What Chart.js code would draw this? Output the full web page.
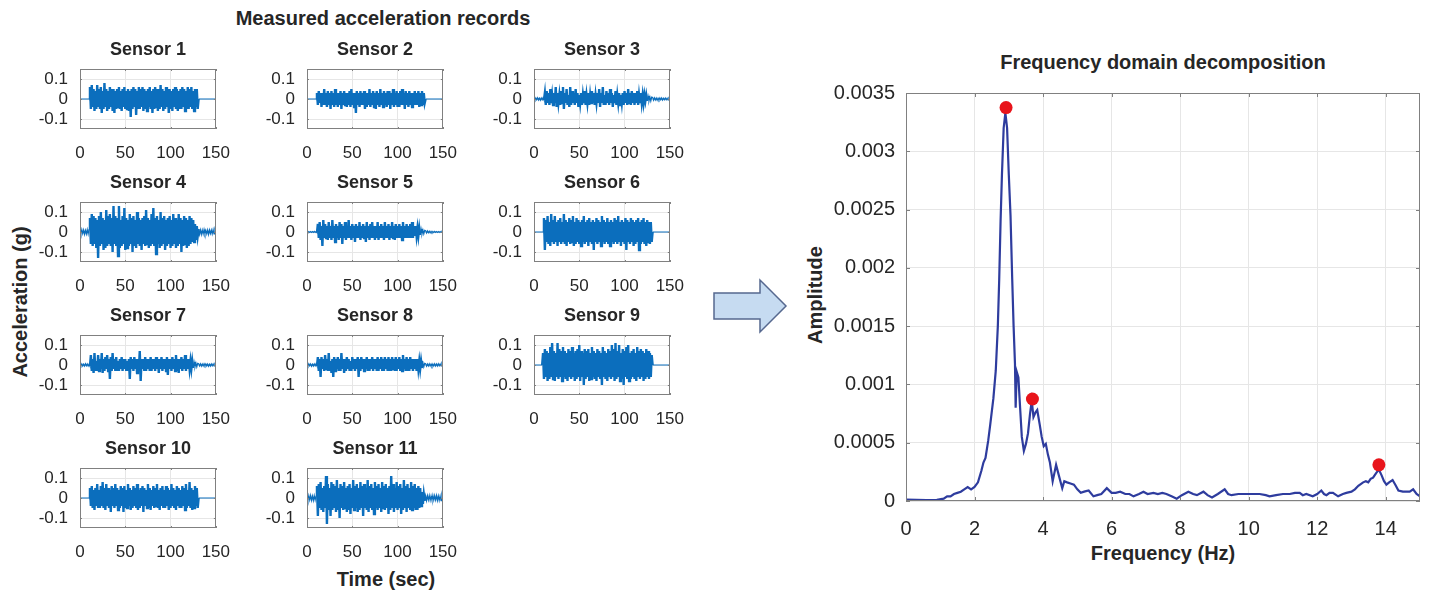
<!DOCTYPE html>
<html>
<head>
<meta charset="utf-8">
<script src="https://cdn.jsdelivr.net/npm/chart.js@4.4.1/dist/chart.umd.min.js"></script>
<style>
  body { margin: 0; background: #fff; }
  #fig { position: relative; width: 1430px; height: 592px; overflow: hidden; background: #fff;
         font-family: "Liberation Sans", Arial, Helvetica, sans-serif; color: #262626; }
  #fig canvas { position: absolute; }
  .lbl { position: absolute; font-weight: bold; font-size: 20px; white-space: nowrap;
         transform: translate(-50%, -50%); }
  .rot { transform: translate(-50%, -50%) rotate(-90deg); }
  #arrow { position: absolute; left: 0; top: 0; }
</style>
</head>
<body>
<div id="fig">
  <div class="lbl" style="left:383px; top:18px;">Measured acceleration records</div>
  <div class="lbl rot" style="left:20px; top:302px;">Acceleration (g)</div>
  <div class="lbl" style="left:386px; top:579px;">Time (sec)</div>
  <div class="lbl" style="left:1163px; top:62px;">Frequency domain decomposition</div>
  <div class="lbl rot" style="left:815px; top:295px;">Amplitude</div>
  <div class="lbl" style="left:1163px; top:553px;">Frequency (Hz)</div>
  <svg id="arrow" width="1430" height="592">
    <polygon points="714,293 760,293 760,280 786,306 760,332 760,319 714,319"
             fill="#c6dbf1" stroke="#56688f" stroke-width="1.5"/>
  </svg>
</div>
<script>
// ---- acceleration records (g), 1 s samples, first sample at S_START ----
const S_START = [11, 11, 0, 0, 0, 11, 0, 0, 10, 11, 0];

const s1 = [
  0.06,-0.05,0.07,-0.04,0.05,-0.06,0.04,-0.05,0.07,-0.04,
  0.05,-0.05,0.06,-0.07,0.04,-0.05,0.08,-0.04,0.05,-0.06,
  0.04,-0.05,0.06,-0.04,0.05,-0.06,0.05,-0.07,0.04,-0.05,
  0.05,-0.04,0.06,-0.05,0.04,-0.06,0.05,-0.04,0.06,-0.05,
  0.04,-0.05,0.05,-0.06,0.04,-0.09,0.05,-0.05,0.06,-0.04,
  0.05,-0.08,0.04,-0.05,0.06,-0.05,0.05,-0.04,0.06,-0.06,
  0.05,-0.05,0.04,-0.06,0.05,-0.04,0.06,-0.05,0.04,-0.07,
  0.05,-0.05,0.06,-0.04,0.05,-0.06,0.05,-0.05,0.07,-0.04,
  0.05,-0.06,0.04,-0.05,0.06,-0.04,0.05,-0.07,0.05,-0.05,
  0.04,-0.06,0.05,-0.04,0.06,-0.05,0.05,-0.06,0.04,-0.05,
  0.05,-0.05,0.06,-0.04,0.05,-0.06,0.04,-0.05,0.06,-0.05,
  0.05,-0.04,0.06,-0.05,0.04,-0.06,0.05,-0.04,0.05,-0.05
];
const s2 = [
  0.03,-0.03,0.04,-0.02,0.03,-0.04,0.03,-0.03,0.05,-0.03,
  0.03,-0.04,0.04,-0.03,0.03,-0.05,0.04,-0.03,0.03,-0.04,
  0.05,-0.03,0.03,-0.04,0.03,-0.03,0.04,-0.05,0.03,-0.03,
  0.04,-0.03,0.03,-0.04,0.03,-0.03,0.04,-0.04,0.05,-0.03,
  0.03,-0.04,0.03,-0.07,0.04,-0.03,0.03,-0.04,0.04,-0.03,
  0.03,-0.03,0.04,-0.05,0.03,-0.04,0.03,-0.03,0.05,-0.04,
  0.03,-0.03,0.04,-0.04,0.03,-0.05,0.04,-0.03,0.03,-0.04,
  0.05,-0.03,0.03,-0.04,0.04,-0.03,0.03,-0.04,0.04,-0.03,
  0.04,-0.05,0.03,-0.03,0.05,-0.04,0.03,-0.03,0.04,-0.04,
  0.03,-0.04,0.04,-0.03,0.05,-0.03,0.03,-0.05,0.04,-0.03,
  0.03,-0.04,0.04,-0.03,0.03,-0.04,0.03,-0.03,0.04,-0.03,
  0.03,-0.03,0.04,-0.04,0.03,-0.03,0.04,-0.03,0.03,-0.02
];
const s3 = [
  0.004,-0.005,0.005,-0.004,0.006,-0.005,0.004,-0.006,0.005,-0.004,0.006,-0.005,
  0.03,-0.03,0.04,-0.02,0.03,-0.03,0.05,-0.02,0.02,-0.03,
  0.03,-0.02,0.06,-0.04,0.03,-0.02,0.02,-0.03,0.04,-0.02,
  0.06,-0.05,0.03,-0.02,0.05,-0.03,0.02,-0.04,0.06,-0.03,
  0.04,-0.02,0.03,-0.03,0.05,-0.02,0.03,-0.04,0.02,-0.02,
  0.03,-0.03,0.02,-0.02,0.04,-0.03,0.02,-0.02,0.03,-0.03,
  0.02,-0.02,0.04,-0.02,0.03,-0.03,0.02,-0.02,0.03,-0.02,
  0.05,-0.04,0.03,-0.02,0.06,-0.03,0.02,-0.03,0.04,-0.02,
  0.03,-0.03,0.05,-0.02,0.03,-0.04,0.02,-0.02,0.04,-0.03,
  0.02,-0.02,0.03,-0.03,0.02,-0.02,0.03,-0.03,0.04,-0.02,
  0.03,-0.03,0.05,-0.02,0.03,-0.03,0.04,-0.02,0.03,-0.03,
  0.03,-0.02,0.04,-0.03,0.02,-0.02,0.03,-0.02,0.02,-0.02,
  0.02,-0.01,0.02,-0.01,0.015,-0.01,0.01,-0.01,0.01,
  0.008,-0.006,0.006,-0.005,0.005,-0.006,0.004,-0.005,0.005,-0.004,
  0.005,-0.005,0.004,-0.004,0.005,-0.004,0.004,-0.005,0.004,-0.003
];
const s4 = [
  0.01,-0.01,0.012,-0.008,0.01,-0.012,0.008,-0.01,0.012,-0.01,0.015,
  0.07,-0.06,0.09,-0.07,0.08,-0.06,0.07,-0.08,0.06,-0.13,
  0.08,-0.07,0.10,-0.06,0.07,-0.09,0.06,-0.08,0.11,-0.07,
  0.08,-0.06,0.09,-0.07,0.07,-0.10,0.13,-0.06,0.08,-0.07,
  0.07,-0.12,0.13,-0.08,0.06,-0.07,0.08,-0.06,0.12,-0.09,
  0.07,-0.08,0.06,-0.07,0.09,-0.06,0.07,-0.10,0.08,-0.07,
  0.06,-0.08,0.10,-0.06,0.07,-0.07,0.06,-0.09,0.07,-0.06,
  0.08,-0.07,0.11,-0.06,0.07,-0.08,0.06,-0.07,0.09,-0.06,
  0.12,-0.07,0.07,-0.11,0.08,-0.06,0.06,-0.08,0.10,-0.07,
  0.07,-0.06,0.08,-0.09,0.06,-0.07,0.07,-0.06,0.08,-0.08,
  0.06,-0.07,0.09,-0.06,0.07,-0.08,0.06,-0.07,0.09,-0.06,
  0.07,-0.10,0.06,-0.07,0.08,-0.06,0.07,-0.08,0.06,-0.07,
  0.08,-0.06,0.07,-0.05,0.06,-0.05,0.04,-0.04,0.03,-0.02,
  0.015,-0.012,0.01,-0.012,0.01,-0.01,0.012,-0.01,0.008,-0.01,
  0.01,-0.012,0.01,-0.008,0.01,-0.01,0.012,-0.01,0.008,-0.01
];
const s5 = [
  0.002,-0.002,0.002,-0.002,0.002,-0.002,0.002,-0.002,0.003,-0.002,0.002,-0.003,
  0.04,-0.03,0.05,-0.04,0.03,-0.07,0.06,-0.03,0.04,-0.03,
  0.03,-0.04,0.05,-0.03,0.03,-0.04,0.06,-0.03,0.03,-0.05,
  0.04,-0.03,0.03,-0.04,0.05,-0.03,0.04,-0.06,0.03,-0.03,
  0.05,-0.04,0.03,-0.03,0.06,-0.03,0.03,-0.04,0.04,-0.03,
  0.03,-0.05,0.04,-0.03,0.03,-0.03,0.05,-0.04,0.03,-0.03,
  0.04,-0.03,0.03,-0.05,0.05,-0.03,0.03,-0.04,0.04,-0.03,
  0.05,-0.03,0.03,-0.04,0.03,-0.03,0.05,-0.04,0.03,-0.03,
  0.04,-0.03,0.03,-0.04,0.05,-0.03,0.03,-0.03,0.04,-0.04,
  0.03,-0.03,0.05,-0.03,0.03,-0.04,0.04,-0.03,0.03,-0.03,
  0.04,-0.03,0.03,-0.04,0.05,-0.03,0.03,-0.03,0.04,-0.03,
  0.03,-0.03,0.04,-0.03,0.05,-0.03,0.03,-0.02,0.03,-0.02,
  0.02,-0.02,0.02,-0.015,0.015,-0.01,0.01,-0.01,0.008,
  0.006,-0.005,0.005,-0.004,0.004,-0.004,0.003,-0.003,0.003,-0.003,
  0.003,-0.002,0.002,-0.002,0.002,-0.002,0.002,-0.002,0.002,-0.002
];
const s6 = [
  0.07,-0.09,0.06,-0.05,0.08,-0.06,0.05,-0.07,0.09,-0.05,
  0.06,-0.06,0.08,-0.05,0.05,-0.07,0.06,-0.05,0.07,-0.06,
  0.05,-0.05,0.09,-0.06,0.06,-0.07,0.05,-0.05,0.07,-0.06,
  0.06,-0.05,0.08,-0.07,0.05,-0.06,0.07,-0.05,0.06,-0.06,
  0.05,-0.07,0.06,-0.05,0.08,-0.06,0.05,-0.05,0.06,-0.07,
  0.07,-0.05,0.05,-0.06,0.06,-0.09,0.05,-0.05,0.07,-0.06,
  0.06,-0.05,0.05,-0.07,0.08,-0.05,0.06,-0.06,0.05,-0.05,
  0.07,-0.06,0.05,-0.07,0.06,-0.05,0.05,-0.06,0.07,-0.05,
  0.06,-0.06,0.08,-0.05,0.05,-0.07,0.06,-0.05,0.05,-0.06,
  0.07,-0.09,0.06,-0.05,0.05,-0.06,0.07,-0.05,0.06,-0.07,
  0.05,-0.06,0.06,-0.05,0.07,-0.09,0.05,-0.06,0.06,-0.05,
  0.07,-0.06,0.05,-0.07,0.06,-0.05,0.05,-0.06,0.05,-0.05
];
const s7 = [
  0.005,-0.004,0.005,-0.005,0.004,-0.005,0.006,-0.004,0.005,-0.005,0.004,-0.006,
  0.05,-0.03,0.03,-0.04,0.06,-0.03,0.02,-0.03,0.05,-0.03,
  0.03,-0.02,0.06,-0.04,0.03,-0.03,0.04,-0.02,0.05,-0.03,
  0.03,-0.07,0.04,-0.03,0.06,-0.02,0.03,-0.03,0.04,-0.03,
  0.02,-0.03,0.03,-0.02,0.04,-0.03,0.03,-0.02,0.03,-0.03,
  0.02,-0.03,0.03,-0.07,0.04,-0.02,0.03,-0.03,0.04,-0.02,
  0.03,-0.04,0.03,-0.02,0.07,-0.08,0.03,-0.02,0.03,-0.03,
  0.04,-0.03,0.03,-0.02,0.03,-0.03,0.04,-0.03,0.03,-0.02,
  0.03,-0.03,0.04,-0.02,0.03,-0.04,0.03,-0.02,0.04,-0.03,
  0.03,-0.02,0.03,-0.03,0.04,-0.05,0.03,-0.02,0.03,-0.03,
  0.04,-0.02,0.03,-0.03,0.05,-0.03,0.03,-0.04,0.03,-0.02,
  0.04,-0.03,0.03,-0.02,0.05,-0.03,0.03,-0.02,0.03,-0.02,
  0.02,-0.02,0.02,-0.015,0.015,-0.01,0.01,-0.01,0.008,
  0.006,-0.005,0.006,-0.006,0.005,-0.005,0.006,-0.004,0.005,-0.005,
  0.005,-0.006,0.004,-0.005,0.005,-0.004,0.005,-0.005,0.004,-0.004
];
const s8 = [
  0.005,-0.005,0.006,-0.004,0.005,-0.006,0.004,-0.005,0.005,-0.004,0.006,-0.005,
  0.04,-0.03,0.03,-0.06,0.04,-0.02,0.03,-0.03,0.05,-0.02,
  0.03,-0.03,0.06,-0.03,0.02,-0.04,0.03,-0.06,0.04,-0.03,
  0.03,-0.02,0.04,-0.03,0.03,-0.03,0.06,-0.02,0.03,-0.04,
  0.03,-0.03,0.04,-0.02,0.03,-0.03,0.02,-0.03,0.04,-0.02,
  0.03,-0.03,0.03,-0.02,0.04,-0.06,0.03,-0.03,0.04,-0.02,
  0.03,-0.03,0.03,-0.02,0.04,-0.03,0.03,-0.03,0.03,-0.02,
  0.04,-0.03,0.03,-0.02,0.03,-0.03,0.04,-0.03,0.03,-0.02,
  0.04,-0.03,0.03,-0.03,0.04,-0.02,0.03,-0.03,0.04,-0.03,
  0.03,-0.03,0.04,-0.02,0.03,-0.03,0.04,-0.03,0.03,-0.02,
  0.04,-0.03,0.03,-0.03,0.05,-0.02,0.03,-0.03,0.04,-0.03,
  0.03,-0.03,0.04,-0.02,0.03,-0.03,0.03,-0.02,0.03,-0.03,
  0.03,-0.02,0.02,-0.02,0.02,-0.015,0.01,-0.01,0.008,
  0.006,-0.006,0.005,-0.005,0.006,-0.005,0.005,-0.006,0.005,-0.005,
  0.006,-0.005,0.005,-0.005,0.006,-0.004,0.005,-0.005,0.006,-0.005
];
const s9 = [
  0.06,-0.07,0.08,-0.06,0.07,-0.08,0.06,-0.07,0.09,-0.06,
  0.11,-0.07,0.07,-0.08,0.06,-0.06,0.11,-0.07,0.08,-0.06,
  0.07,-0.08,0.09,-0.06,0.07,-0.07,0.06,-0.08,0.08,-0.06,
  0.07,-0.07,0.09,-0.06,0.06,-0.08,0.07,-0.07,0.08,-0.06,
  0.10,-0.08,0.07,-0.06,0.06,-0.10,0.08,-0.07,0.07,-0.06,
  0.08,-0.08,0.06,-0.07,0.09,-0.06,0.07,-0.07,0.06,-0.08,
  0.08,-0.06,0.07,-0.07,0.06,-0.10,0.09,-0.06,0.07,-0.07,
  0.06,-0.08,0.08,-0.06,0.07,-0.07,0.10,-0.06,0.08,-0.08,
  0.11,-0.07,0.07,-0.06,0.10,-0.08,0.06,-0.07,0.08,-0.10,
  0.07,-0.06,0.09,-0.07,0.10,-0.08,0.06,-0.07,0.07,-0.06,
  0.08,-0.07,0.06,-0.08,0.09,-0.06,0.07,-0.07,0.08,-0.06,
  0.07,-0.08,0.06,-0.07,0.08,-0.06,0.07,-0.07,0.06,-0.06,
  0.05
];
const s10 = [
  0.05,-0.04,0.06,-0.05,0.04,-0.06,0.05,-0.04,0.07,-0.05,
  0.04,-0.05,0.06,-0.04,0.08,-0.05,0.05,-0.06,0.07,-0.04,
  0.05,-0.05,0.04,-0.07,0.06,-0.04,0.05,-0.05,0.07,-0.04,
  0.05,-0.06,0.04,-0.05,0.06,-0.04,0.05,-0.07,0.06,-0.05,
  0.04,-0.05,0.07,-0.04,0.05,-0.06,0.04,-0.05,0.06,-0.04,
  0.05,-0.05,0.07,-0.06,0.04,-0.05,0.05,-0.04,0.06,-0.07,
  0.05,-0.04,0.04,-0.05,0.07,-0.05,0.05,-0.06,0.04,-0.04,
  0.06,-0.05,0.05,-0.04,0.07,-0.05,0.04,-0.06,0.05,-0.04,
  0.06,-0.05,0.04,-0.05,0.06,-0.04,0.05,-0.06,0.04,-0.05,
  0.07,-0.04,0.05,-0.05,0.04,-0.06,0.06,-0.04,0.05,-0.05,
  0.04,-0.05,0.06,-0.04,0.05,-0.06,0.07,-0.05,0.04,-0.04,
  0.08,-0.05,0.05,-0.06,0.04,-0.05,0.06,-0.04,0.05,-0.05
];
const s11 = [
  0.01,-0.012,0.012,-0.01,0.013,-0.012,0.01,-0.013,0.012,-0.01,0.012,
  0.06,-0.09,0.07,-0.05,0.08,-0.06,0.05,-0.07,0.06,-0.05,
  0.11,-0.13,0.07,-0.06,0.05,-0.09,0.08,-0.06,0.07,-0.05,
  0.06,-0.07,0.09,-0.06,0.05,-0.10,0.07,-0.05,0.06,-0.06,
  0.08,-0.05,0.05,-0.07,0.06,-0.06,0.07,-0.08,0.05,-0.05,
  0.09,-0.06,0.06,-0.05,0.07,-0.07,0.05,-0.06,0.08,-0.05,
  0.06,-0.09,0.07,-0.05,0.05,-0.06,0.09,-0.07,0.06,-0.05,
  0.07,-0.06,0.05,-0.08,0.08,-0.05,0.06,-0.06,0.07,-0.05,
  0.05,-0.07,0.08,-0.05,0.06,-0.06,0.07,-0.05,0.05,-0.08,
  0.06,-0.06,0.11,-0.05,0.07,-0.07,0.05,-0.05,0.08,-0.06,
  0.06,-0.05,0.07,-0.08,0.05,-0.06,0.09,-0.05,0.06,-0.07,
  0.07,-0.05,0.05,-0.06,0.08,-0.06,0.06,-0.05,0.07,-0.06,
  0.05,-0.06,0.06,-0.05,0.05,-0.04,0.03,-0.03,0.02,-0.015,
  0.012,-0.013,0.012,-0.01,0.013,-0.012,0.01,-0.012,0.013,-0.011,
  0.012,-0.01,0.013,-0.012,0.011,-0.012,0.01,-0.013,0.012,-0.01
];
const SENSORS = [s1, s2, s3, s4, s5, s6, s7, s8, s9, s10, s11];
const T_END = 150;
const SMALL_X_TICKS = [0, 50, 100, 150];
const SMALL_Y_TICKS = [-0.1, 0, 0.1];

// ---- frequency domain decomposition ----
const FREQ = [
  0, 0.3, 0.6, 0.9, 1.1, 1.2, 1.3, 1.4, 1.5, 1.6, 1.7, 1.8, 1.9, 2.0, 2.1, 2.2, 2.26, 2.32, 2.4, 2.46,
  2.55, 2.62, 2.68, 2.72, 2.76, 2.8, 2.85, 2.9, 2.95, 3.0, 3.05, 3.1, 3.14, 3.18, 3.2, 3.23, 3.28, 3.33, 3.38, 3.44,
  3.5, 3.56, 3.62, 3.67, 3.72, 3.78, 3.83, 3.9, 3.96, 4.02, 4.08, 4.14, 4.2, 4.28, 4.38, 4.46, 4.56, 4.62, 4.7, 4.8,
  4.9, 5.0, 5.1, 5.2, 5.33, 5.47, 5.58, 5.7, 5.86, 6.0, 6.12, 6.25, 6.4, 6.52, 6.64, 6.8, 6.93, 7.05, 7.22, 7.35,
  7.48, 7.6, 7.75, 7.9, 8.05, 8.24, 8.38, 8.49, 8.68, 8.8, 8.93, 9.1, 9.3, 9.4, 9.5, 9.7, 9.93, 10.1, 10.32, 10.5,
  10.61, 10.8, 11.0, 11.2, 11.35, 11.49, 11.58, 11.68, 11.87, 12.0, 12.12, 12.2, 12.27, 12.36, 12.46, 12.61, 12.75, 12.85, 13.0, 13.1,
  13.2, 13.34, 13.42, 13.49, 13.56, 13.63, 13.72, 13.8, 13.88, 13.95, 14.02, 14.1, 14.2, 14.28, 14.37, 14.5, 14.61, 14.7, 14.8, 14.9,
  15.0
];
const AMP = [
  0.000012, 0.00001, 0.000008, 0.00001, 0.00002, 0.00004, 0.00004, 0.00006, 0.00007, 0.00008, 0.0001, 0.00012, 0.0001, 0.00012, 0.00016, 0.00026, 0.00033, 0.00037, 0.00052, 0.00066,
  0.00088, 0.00112, 0.0015, 0.0019, 0.0024, 0.0028, 0.0032, 0.00333, 0.0032, 0.0028, 0.00245, 0.0019, 0.0015, 0.00118, 0.0008, 0.00111, 0.00106, 0.0008, 0.00055, 0.00043,
  0.00049, 0.00058, 0.00075, 0.00086, 0.00072, 0.00076, 0.00078, 0.00066, 0.00055, 0.00047, 0.00049, 0.0004, 0.00033, 0.00017, 0.00031, 0.00022, 0.00011, 0.00017, 0.00016, 0.00015,
  0.00014, 0.0001, 0.00007, 0.00008, 0.00009, 0.00004, 0.00005, 0.00006, 0.00011, 0.00007, 0.00007, 0.00008, 0.00006, 0.00006, 0.00004, 0.00006, 0.00008, 0.00006, 0.00007, 0.00006,
  0.00007, 0.00006, 0.00004, 0.00002, 0.00005, 0.00008, 0.00006, 0.00005, 0.00008, 0.00005, 0.00003, 0.00006, 0.0001, 0.00006, 0.00005, 0.00006, 0.00006, 0.00006, 0.00006, 0.00005,
  0.00004, 0.00005, 0.00006, 0.00006, 0.00007, 0.00007, 0.00005, 0.00006, 0.00004, 0.00006, 0.00009, 0.00006, 0.00005, 0.00007, 0.00007, 0.00004, 0.00006, 0.00007, 0.00008, 0.0001,
  0.00013, 0.00016, 0.00017, 0.00016, 0.00019, 0.0002, 0.00024, 0.00027, 0.00022, 0.00017, 0.00014, 0.00016, 0.00018, 0.00014, 0.00009, 0.00008, 0.00008, 0.00008, 0.0001, 0.00006,
  0.00004
];
const PEAK_F = [2.92, 3.69, 13.8];
const PEAK_A = [0.003375, 0.000875, 0.00031];
const FDD_X_TICKS = [0, 2, 4, 6, 8, 10, 12, 14];
const FDD_Y_TICKS = [0, 0.0005, 0.001, 0.0015, 0.002, 0.0025, 0.003, 0.0035];

// layout of the small panels
const COL_LEFT = [80, 307, 534];
const ROW_TOP = [69, 202, 335, 468];
const BOX_W = 144, BOX_H = 60;
const FONT = '"Liberation Sans", Arial, Helvetica, sans-serif';
const INK = '#262626';

// MATLAB style box with inward ticks
const boxPlugin = {
  id: 'box',
  afterDraw(chart, args, opts) {
    const { ctx, chartArea: a, scales } = chart;
    const len = opts.tick || 3;
    ctx.save();
    ctx.strokeStyle = '#808080';
    ctx.lineWidth = 1;
    ctx.strokeRect(Math.round(a.left) + 0.5, Math.round(a.top) + 0.5,
                   Math.round(a.width) - 1, Math.round(a.height) - 1);
    ctx.beginPath();
    scales.x.ticks.forEach(t => {
      const px = Math.round(scales.x.getPixelForValue(t.value)) + 0.5;
      ctx.moveTo(px, a.bottom); ctx.lineTo(px, a.bottom - len);
      ctx.moveTo(px, a.top); ctx.lineTo(px, a.top + len);
    });
    scales.y.ticks.forEach(t => {
      const py = Math.round(scales.y.getPixelForValue(t.value)) + 0.5;
      ctx.moveTo(a.left, py); ctx.lineTo(a.left + len, py);
      ctx.moveTo(a.right, py); ctx.lineTo(a.right - len, py);
    });
    ctx.stroke();
    ctx.restore();
  }
};

function makeCanvas(left, top, w, h) {
  const c = document.createElement('canvas');
  c.width = w; c.height = h;
  c.style.left = left + 'px'; c.style.top = top + 'px';
  document.getElementById('fig').appendChild(c);
  return c;
}

function series(start, vals) {
  const pts = vals.map((v, i) => ({ x: start + i, y: v }));
  if (start > 0) pts.unshift({ x: 0, y: 0 }, { x: start - 1, y: 0 });
  const end = start + vals.length - 1;
  if (end < T_END) pts.push({ x: end + 1, y: 0 }, { x: T_END, y: 0 });
  return pts;
}

const Y_W = 56, X_H = 36, TITLE_H = 30, PAD_R = 20;

SENSORS.forEach((vals, k) => {
  const col = k % 3, row = Math.floor(k / 3);
  const cv = makeCanvas(COL_LEFT[col] - Y_W, ROW_TOP[row] - TITLE_H,
                        Y_W + BOX_W + PAD_R, TITLE_H + BOX_H + X_H);
  new Chart(cv, {
    type: 'line',
    data: {
      datasets: [{
        data: series(S_START[k], vals),
        borderColor: '#0b6ebd',
        borderWidth: 2.4,
        pointRadius: 0,
        tension: 0,
        segment: {
          // quiet parts of the record are a thin flat line
          borderWidth: c => (Math.abs(c.p0.parsed.y) < 0.02 && Math.abs(c.p1.parsed.y) < 0.02) ? 1.2 : 2.4
        }
      }]
    },
    options: {
      responsive: false,
      animation: false,
      layout: { padding: { top: 0, right: PAD_R, bottom: 0, left: 0 } },
      plugins: {
        legend: { display: false },
        tooltip: { enabled: false },
        title: {
          display: true, text: 'Sensor ' + (k + 1), fullSize: false, color: INK,
          font: { family: FONT, size: 18, weight: 'bold', lineHeight: 1.2 },
          padding: { top: 0, bottom: 8.4 }
        },
        box: { tick: 2 }
      },
      scales: {
        x: {
          type: 'linear', min: 0, max: 150,
          afterBuildTicks: s => { s.ticks = SMALL_X_TICKS.map(v => ({ value: v })); },
          afterFit: s => { s.height = X_H; },
          grid: { color: '#e6e6e6', drawTicks: false },
          border: { display: false },
          ticks: { autoSkip: false, maxRotation: 0, padding: 14, color: INK, font: { family: FONT, size: 17 } }
        },
        y: {
          min: -0.15, max: 0.15,
          afterBuildTicks: s => { s.ticks = SMALL_Y_TICKS.map(v => ({ value: v })); },
          afterFit: s => { s.width = Y_W; },
          grid: { color: '#e6e6e6', drawTicks: false },
          border: { display: false },
          ticks: { padding: 12, color: INK, font: { family: FONT, size: 17 },
                   callback: v => String(v) }
        }
      }
    },
    plugins: [boxPlugin]
  });
});

// ---- FDD panel ----
const F_LEFT = 906, F_TOP = 88, F_W = 514, F_H = 413;
const FY_W = 100, FX_H = 40, F_PADT = 18, F_PADR = 10;
const fcv = makeCanvas(F_LEFT - FY_W, F_TOP - F_PADT, FY_W + F_W + F_PADR, F_PADT + F_H + FX_H);
new Chart(fcv, {
  type: 'line',
  data: {
    datasets: [
      {
        type: 'scatter',
        data: PEAK_F.map((f, i) => ({ x: f, y: PEAK_A[i] })),
        backgroundColor: '#e8141b',
        borderWidth: 0,
        pointRadius: 6.5,
        showLine: false
      },
      {
        data: FREQ.map((f, i) => ({ x: f, y: AMP[i] })),
        borderColor: '#2e3c9e',
        borderWidth: 2.2,
        pointRadius: 0,
        tension: 0
      }
    ]
  },
  options: {
    responsive: false,
    animation: false,
    layout: { padding: { top: F_PADT, right: F_PADR, bottom: 0, left: 0 } },
    plugins: { legend: { display: false }, tooltip: { enabled: false }, box: { tick: 4 } },
    scales: {
      x: {
        type: 'linear', min: 0, max: 15,
        afterBuildTicks: s => { s.ticks = FDD_X_TICKS.map(v => ({ value: v })); },
        afterFit: s => { s.height = FX_H; },
        grid: { color: '#e6e6e6', drawTicks: false },
        border: { display: false },
        ticks: { autoSkip: false, maxRotation: 0, padding: 16, color: INK, font: { family: FONT, size: 20 } }
      },
      y: {
        type: 'linear', min: 0, max: 0.0035,
        afterBuildTicks: s => { s.ticks = FDD_Y_TICKS.map(v => ({ value: v })); },
        afterFit: s => { s.width = FY_W; },
        grid: { color: '#e6e6e6', drawTicks: false },
        border: { display: false },
        ticks: { padding: 11, color: INK, font: { family: FONT, size: 20 },
                 callback: v => String(Number(v.toFixed(4))) }
      }
    }
  },
  plugins: [boxPlugin]
});
</script>
</body>
</html>
